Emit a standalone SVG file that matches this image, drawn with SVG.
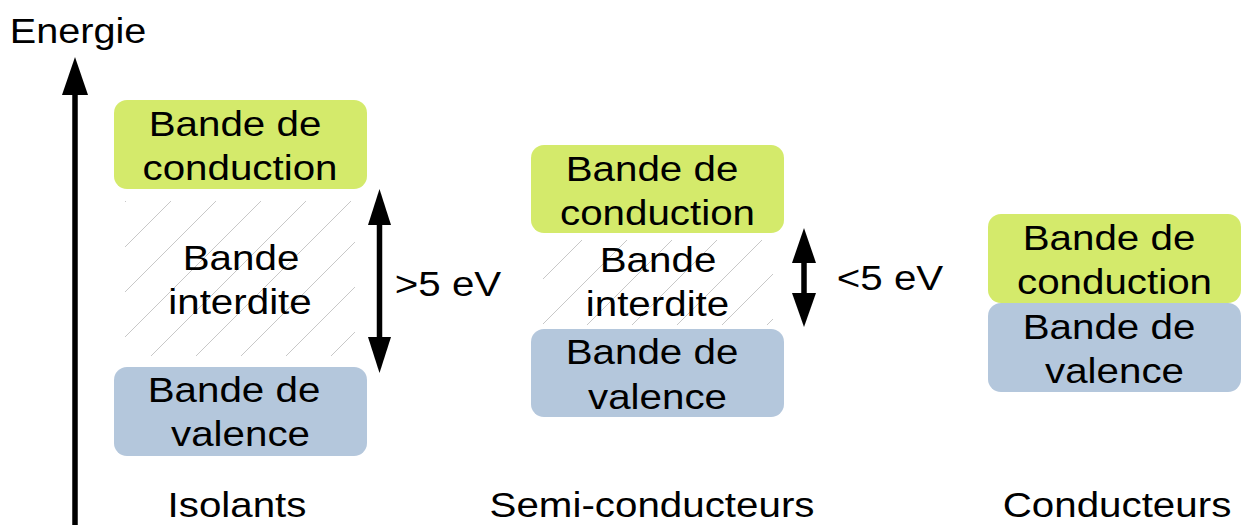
<svg xmlns="http://www.w3.org/2000/svg" width="1241" height="525" viewBox="0 0 1241 525">
  <style>
    .t { font-family: "Liberation Sans", Arial, sans-serif; font-size: 36px; fill: #000; text-anchor: middle; }
    .cb { fill: #d4ea6b; }
    .vb { fill: #b4c7dc; }
    .hatch { fill: url(#hatch); }
    .shaft { stroke: #000; stroke-width: 5.5; fill: none; }
    .head { fill: #000; }
  </style>
  <defs>
    <pattern id="hatch" patternUnits="userSpaceOnUse" x="0" y="0" width="45" height="45">
      <path d="M0,12 L12,0 M12,45 L45,12" stroke="#c8c8c8" stroke-width="1" fill="none"/>
    </pattern>
  </defs>
  <rect width="1241" height="525" fill="#fff"/>

  <g id="connectors">
    <g id="energy-axis">
      <line class="shaft" x1="75" y1="92" x2="75" y2="525" stroke-width="6"/>
      <polygon class="head" points="75,57 62,95 88,95"/>
    </g>
    <g id="gap-arrow-isolants">
      <line class="shaft" x1="379.5" y1="220" x2="379.5" y2="342"/>
      <polygon class="head" points="379.5,189 368,225 391,225"/>
      <polygon class="head" points="379.5,373 368,337 391,337"/>
    </g>
    <g id="gap-arrow-semi">
      <line class="shaft" x1="804" y1="258" x2="804" y2="298"/>
      <polygon class="head" points="804,228 792,263 816,263"/>
      <polygon class="head" points="804,327 792,293 816,293"/>
    </g>
  </g>

  <g id="energie-label">
    <g transform="translate(78,0) scale(1.1,1)"><text class="t" x="0" y="43">Energie</text></g>
  </g>

  <g id="isolants-conduction">
    <rect class="cb" x="114" y="100" width="253" height="89" rx="13"/>
    <g transform="translate(235,0) scale(1.12,1)"><text class="t" x="0" y="136">Bande de</text></g>
    <g transform="translate(240,0) scale(1.12,1)"><text class="t" x="0" y="180">conduction</text></g>
  </g>
  <g id="isolants-interdite">
    <rect class="hatch" x="125" y="201" width="230" height="155"/>
    <g transform="translate(241,0) scale(1.12,1)"><text class="t" x="0" y="270">Bande</text></g>
    <g transform="translate(240,0) scale(1.12,1)"><text class="t" x="0" y="314">interdite</text></g>
  </g>
  <g id="isolants-valence">
    <rect class="vb" x="114" y="367" width="253" height="89" rx="13"/>
    <g transform="translate(234,0) scale(1.12,1)"><text class="t" x="0" y="402">Bande de</text></g>
    <g transform="translate(240.5,0) scale(1.12,1)"><text class="t" x="0" y="446">valence</text></g>
  </g>
  <g id="gap-label-isolants">
    <g transform="translate(448,0) scale(1.12,1)"><text class="t" x="0" y="296">&gt;5 eV</text></g>
  </g>
  <g id="label-isolants">
    <g transform="translate(237,0) scale(1.12,1)"><text class="t" x="0" y="517">Isolants</text></g>
  </g>

  <g id="semi-conduction">
    <rect class="cb" x="531" y="145" width="253" height="88" rx="13"/>
    <g transform="translate(652,0) scale(1.12,1)"><text class="t" x="0" y="181">Bande de</text></g>
    <g transform="translate(657.5,0) scale(1.12,1)"><text class="t" x="0" y="225">conduction</text></g>
  </g>
  <g id="semi-interdite">
    <rect class="hatch" x="543" y="240" width="230" height="85"/>
    <g transform="translate(658,0) scale(1.12,1)"><text class="t" x="0" y="272">Bande</text></g>
    <g transform="translate(657.5,0) scale(1.12,1)"><text class="t" x="0" y="316">interdite</text></g>
  </g>
  <g id="semi-valence">
    <rect class="vb" x="531" y="329" width="253" height="88" rx="13"/>
    <g transform="translate(652,0) scale(1.12,1)"><text class="t" x="0" y="364">Bande de</text></g>
    <g transform="translate(657.5,0) scale(1.12,1)"><text class="t" x="0" y="409">valence</text></g>
  </g>
  <g id="gap-label-semi">
    <g transform="translate(890,0) scale(1.12,1)"><text class="t" x="0" y="290">&lt;5 eV</text></g>
  </g>
  <g id="label-semi">
    <g transform="translate(652,0) scale(1.12,1)"><text class="t" x="0" y="517">Semi-conducteurs</text></g>
  </g>

  <g id="cond-conduction">
    <rect class="cb" x="988" y="214" width="253" height="89" rx="13"/>
    <g transform="translate(1109,0) scale(1.12,1)"><text class="t" x="0" y="250">Bande de</text></g>
    <g transform="translate(1114.5,0) scale(1.12,1)"><text class="t" x="0" y="294">conduction</text></g>
  </g>
  <g id="cond-valence">
    <rect class="vb" x="988" y="303" width="253" height="89" rx="13"/>
    <g transform="translate(1109,0) scale(1.12,1)"><text class="t" x="0" y="339">Bande de</text></g>
    <g transform="translate(1114.5,0) scale(1.12,1)"><text class="t" x="0" y="383">valence</text></g>
  </g>
  <g id="label-conducteurs">
    <g transform="translate(1117,0) scale(1.12,1)"><text class="t" x="0" y="517">Conducteurs</text></g>
  </g>
</svg>
